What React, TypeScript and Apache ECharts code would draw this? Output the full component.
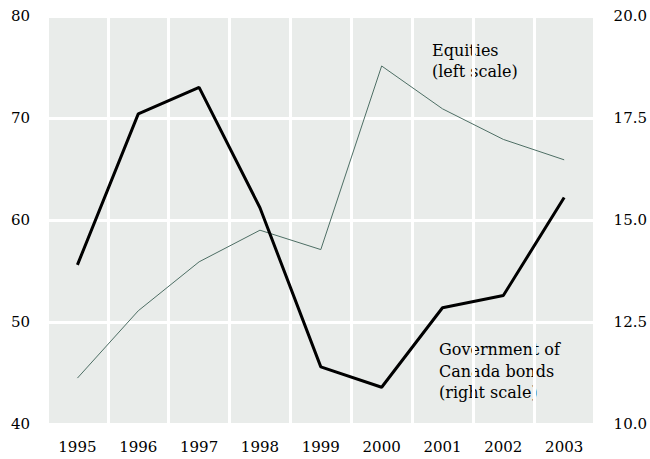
import React, { useEffect, useRef } from "react";
import * as echarts from "echarts";

const years = ["1995", "1996", "1997", "1998", "1999", "2000", "2001", "2002", "2003"];
const equities = [44.5, 51.1, 55.9, 59.0, 57.1, 75.1, 70.9, 67.9, 65.9];
const bonds = [13.9, 17.6, 18.25, 15.3, 11.4, 10.9, 12.85, 13.15, 15.55];
const leftTicks = { min: 40, max: 80, interval: 10 };
const rightTicks = { min: 10, max: 20, interval: 2.5 };

const FONT = "DejaVu Serif";

export default function App() {
  const ref = useRef<HTMLDivElement>(null);
  useEffect(() => {
    if (!ref.current) return;
    const chart = echarts.init(ref.current, null, { renderer: "svg" });
    chart.setOption({
      animation: false,
      backgroundColor: "#ffffff",
      grid: {
        left: 47,
        right: 55,
        top: 16,
        bottom: 35,
        show: true,
        backgroundColor: "#e9ecea",
        borderWidth: 0,
      },
      xAxis: {
        type: "category",
        data: years,
        boundaryGap: true,
        axisLine: { show: false },
        axisTick: { show: false },
        axisLabel: { color: "#000", fontFamily: FONT, fontSize: 15, margin: 15 },
        splitLine: { show: true, lineStyle: { color: "#ffffff", width: 3 } },
      },
      yAxis: [
        {
          type: "value",
          min: leftTicks.min,
          max: leftTicks.max,
          interval: leftTicks.interval,
          axisLine: { show: false },
          axisTick: { show: false },
          axisLabel: { color: "#000", fontFamily: FONT, fontSize: 15, margin: 17 },
          splitLine: { show: true, lineStyle: { color: "#ffffff", width: 3 } },
        },
        {
          type: "value",
          min: rightTicks.min,
          max: rightTicks.max,
          interval: rightTicks.interval,
          position: "right",
          axisLine: { show: false },
          axisTick: { show: false },
          axisLabel: {
            color: "#000",
            fontFamily: FONT,
            fontSize: 15,
            margin: 19,
            formatter: (v: number) => v.toFixed(1),
          },
          splitLine: { show: false },
        },
      ],
      series: [
        {
          name: "Equities",
          type: "line",
          yAxisIndex: 0,
          data: equities,
          symbol: "none",
          lineStyle: { color: "#4d6e64", width: 1 },
        },
        {
          name: "Government of Canada bonds",
          type: "line",
          yAxisIndex: 1,
          data: bonds,
          symbol: "none",
          lineStyle: { color: "#000000", width: 3 },
        },
      ],
      graphic: [
        {
          type: "text",
          left: 432,
          top: 40,
          style: {
            text: "Equities\n(left scale)",
            font: `16px "${FONT}"`,
            fill: "#000",
            lineHeight: 21,
          },
        },
        {
          type: "text",
          left: 439,
          top: 339,
          style: {
            text: "Government of\nCanada bonds\n(right scale)",
            font: `16px "${FONT}"`,
            fill: "#000",
            lineHeight: 21.5,
          },
        },
      ],
    });
    return () => chart.dispose();
  }, []);
  return <div ref={ref} style={{ width: 650, height: 459, position: "absolute", left: 0, top: 0 }} />;
}
